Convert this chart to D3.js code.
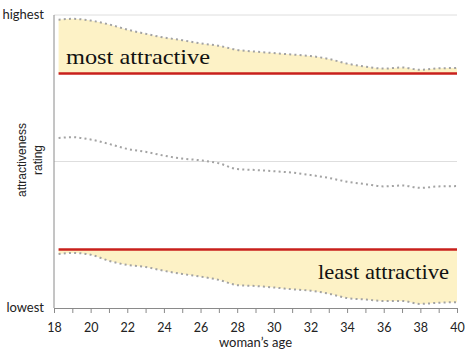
<!DOCTYPE html>
<html>
<head>
    <meta charset="utf-8">
    <title>attractiveness by age</title>
    <script type="text/javascript" src="https://cdn.jsdelivr.net/npm/d3@7"></script>
    <style>
      body { margin: 0; background: #fff; }
    </style>
</head>
<body>
<script type="text/javascript">

        var width = 466
        var height = 351

        // woman's age (x) and the three rating series
        var ages = [18.25, 19, 20, 21, 22, 23, 24, 25, 26, 27, 28, 29, 30, 31, 32, 33, 34, 35, 36, 37, 38, 39, 40]
        var mostAttractive = [9.84, 9.87, 9.81, 9.68, 9.50, 9.36, 9.23, 9.14, 9.03, 8.95, 8.81, 8.75, 8.70, 8.65, 8.60, 8.50, 8.34, 8.24, 8.17, 8.21, 8.13, 8.18, 8.19]
        var average = [5.80, 5.83, 5.75, 5.60, 5.43, 5.33, 5.20, 5.10, 5.04, 4.94, 4.74, 4.71, 4.67, 4.62, 4.54, 4.44, 4.31, 4.23, 4.15, 4.18, 4.10, 4.15, 4.16]
        var leastAttractive = [1.84, 1.88, 1.82, 1.61, 1.47, 1.40, 1.27, 1.16, 1.07, 0.96, 0.78, 0.75, 0.70, 0.64, 0.59, 0.49, 0.34, 0.29, 0.24, 0.24, 0.14, 0.18, 0.20]

        var topLine = 8
        var bottomLine = 2
        var gridValues = [5, 10]
        var yTickValues = [0, 10]
        var yTickLabels = ["lowest", "highest"]
        var xTickValues = [18, 20, 22, 24, 26, 28, 30, 32, 34, 36, 38, 40]
        var xMinorTicks = d3.range(18, 41)

        var sans = "Lato, 'Open Sans', sans-serif"
        var serif = "'Liberation Serif', 'DejaVu Serif', serif"

        var svg = d3.select("body").append("svg").attr("width", width).attr("height", height)

        var x = d3.scaleLinear().domain([18, 40]).range([54, 457])
        var y = d3.scaleLinear().domain([0, 10]).range([308, 15])

        var rows = ages.map(function(a, i) {
            return {age: a, top: mostAttractive[i], mid: average[i], low: leastAttractive[i]}
        })

        // shaded bands
        svg.append("path")
            .attr("d", d3.area().curve(d3.curveMonotoneX)
                .x(function(d) { return x(d.age) })
                .y0(y(topLine))
                .y1(function(d) { return y(d.top) })(rows))
            .attr("fill", "#fdf2c6")

        svg.append("path")
            .attr("d", d3.area().curve(d3.curveMonotoneX)
                .x(function(d) { return x(d.age) })
                .y0(y(bottomLine))
                .y1(function(d) { return y(d.low) })(rows))
            .attr("fill", "#fdf2c6")

        // gridlines
        svg.selectAll(".grid")
            .data(gridValues)
            .enter()
            .append("line")
            .attr("x1", x(18)).attr("x2", x(40))
            .attr("y1", function(d) { return y(d) })
            .attr("y2", function(d) { return y(d) })
            .attr("stroke", "#dedede")
            .attr("stroke-width", 1)

        // red reference lines
        svg.selectAll(".ref")
            .data([topLine, bottomLine])
            .enter()
            .append("line")
            .attr("x1", x(ages[0])).attr("x2", x(40))
            .attr("y1", function(d) { return y(d) })
            .attr("y2", function(d) { return y(d) })
            .attr("stroke", "#c8201c")
            .attr("stroke-width", 2.5)

        // dotted series
        ;["top", "mid", "low"].forEach(function(key) {
            svg.append("path")
                .attr("d", d3.line().curve(d3.curveMonotoneX)
                    .x(function(d) { return x(d.age) })
                    .y(function(d) { return y(d[key]) })(rows))
                .attr("fill", "none")
                .attr("stroke", "#a3a3a3")
                .attr("stroke-width", 2)
                .attr("stroke-dasharray", "2,3.2")
        })

        // y axis
        svg.append("line")
            .attr("x1", x(18)).attr("x2", x(18))
            .attr("y1", y(10)).attr("y2", y(0))
            .attr("stroke", "#8a8a8a")

        svg.selectAll(".ylab")
            .data(yTickValues)
            .enter()
            .append("text")
            .attr("x", 44)
            .attr("y", function(d) { return y(d) + 4 })
            .attr("text-anchor", "end")
            .style("font-family", sans)
            .style("font-size", "13px")
            .attr("fill", "#222")
            .text(function(d, i) { return yTickLabels[i] })

        var yTitle = svg.append("text")
            .attr("transform", "translate(26,160) rotate(-90)")
            .attr("text-anchor", "middle")
            .style("font-family", "'Liberation Sans', Arial, sans-serif")
            .style("font-size", "12px")
            .attr("fill", "#222")
        yTitle.append("tspan").attr("x", 0).attr("dy", 0).text("attractiveness")
        yTitle.append("tspan").attr("x", 0).attr("dy", 16).text("rating")

        // x axis
        var xAxis = d3.axisBottom(x)
            .tickValues(xMinorTicks)
            .tickSize(5)
            .tickFormat(function(d) { return xTickValues.indexOf(d) >= 0 ? d : "" })

        var gx = svg.append("g")
            .attr("transform", "translate(0," + y(0) + ")")
            .call(xAxis)
        gx.select(".domain").attr("stroke", "#8a8a8a").attr("d", "M" + x(18) + ",0.5H" + x(40))
        gx.selectAll(".tick line").attr("stroke", "#8a8a8a")
        gx.selectAll(".tick text")
            .attr("y", 15)
            .style("font-family", sans)
            .style("font-size", "12.5px")
            .attr("fill", "#222")

        svg.append("text")
            .attr("x", (x(18) + x(40)) / 2)
            .attr("y", 347)
            .attr("text-anchor", "middle")
            .style("font-family", sans)
            .style("font-size", "13px")
            .attr("fill", "#222")
            .text("woman\u2019s age")

        // band labels
        svg.append("text")
            .attr("x", 66)
            .attr("y", 64)
            .style("font-family", serif)
            .style("font-size", "22px")
            .attr("textLength", 144)
            .attr("lengthAdjust", "spacingAndGlyphs")
            .attr("fill", "#111")
            .text("most attractive")

        svg.append("text")
            .attr("x", 318)
            .attr("y", 279)
            .style("font-family", serif)
            .style("font-size", "22px")
            .attr("textLength", 131)
            .attr("lengthAdjust", "spacingAndGlyphs")
            .attr("fill", "#111")
            .text("least attractive")

</script>
</body>
</html>
